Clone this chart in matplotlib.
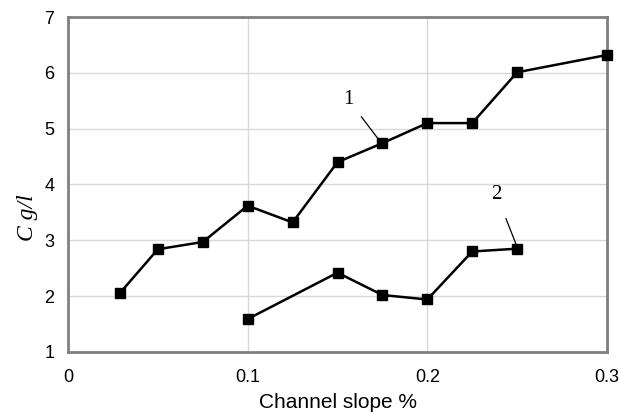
import numpy as np
import matplotlib
matplotlib.use("Agg")
import matplotlib.pyplot as plt

# ── Data ───────────────────────────────────────────────────────────────────
slope_1 = [0.029, 0.05, 0.075, 0.1, 0.125, 0.15, 0.175, 0.2, 0.225, 0.25, 0.3]
conc_1 = [2.06, 2.84, 2.97, 3.62, 3.32, 4.40, 4.74, 5.10, 5.10, 6.01, 6.32]

slope_2 = [0.1, 0.15, 0.175, 0.2, 0.225, 0.25]
conc_2 = [1.59, 2.42, 2.02, 1.94, 2.80, 2.85]

x_ticks = [0, 0.1, 0.2, 0.3]
x_tick_labels = ["0", "0.1", "0.2", "0.3"]
y_ticks = [1, 2, 3, 4, 5, 6, 7]

plt.rcParams["font.family"] = ["Liberation Sans", "DejaVu Sans"]

fig = plt.figure(figsize=(6.19, 4.18), dpi=100)
ax = fig.add_axes([0.1099, 0.158, 0.8707, 0.8013])

for xs, ys in [(slope_1, conc_1), (slope_2, conc_2)]:
    ax.plot(xs, ys, "-s", color="black", lw=1.8, ms=7, clip_on=False, zorder=3)

ax.set_xlim(0, 0.3)
ax.set_ylim(1, 7)
ax.set_xticks(x_ticks)
ax.set_xticklabels(x_tick_labels)
ax.set_yticks(y_ticks)
ax.tick_params(length=0, labelsize=13, pad=12)
ax.tick_params(axis="y", pad=10)
ax.grid(True, color="#d9d9d9", lw=1)
ax.set_axisbelow(True)
for s in ax.spines.values():
    s.set_color("#808080")
    s.set_linewidth(2)

ax.set_xlabel("Channel slope %", fontsize=15, labelpad=5)
ax.set_ylabel("C g/l", fontsize=17, family="Liberation Serif", style="italic",
              va="center")
ax.yaxis.set_label_coords(-0.076, 0.40)

# curve labels with leader lines
ax.annotate("1", xy=(0.1735, 4.78), xytext=(0.156, 5.52),
            fontsize=15, family="Liberation Serif", ha="center", va="center",
            arrowprops=dict(arrowstyle="-", color="black", lw=0.9,
                            shrinkA=6, shrinkB=0))
ax.annotate("2", xy=(0.2495, 2.92), xytext=(0.2385, 3.82),
            fontsize=15, family="Liberation Serif", ha="center", va="center",
            arrowprops=dict(arrowstyle="-", color="black", lw=0.9,
                            shrinkA=9, shrinkB=0))

fig.savefig("out.png", dpi=100)
